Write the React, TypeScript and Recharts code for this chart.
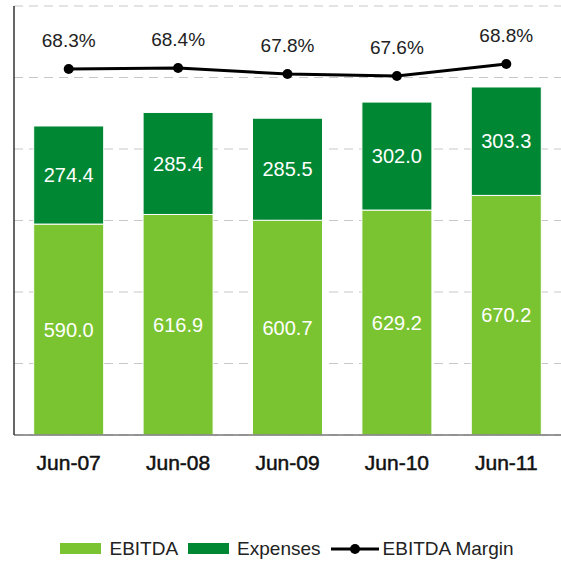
import { ComposedChart, Bar, Line, XAxis, YAxis, CartesianGrid, Legend, LabelList } from 'recharts'

const periods = ['Jun-07', 'Jun-08', 'Jun-09', 'Jun-10', 'Jun-11']
const ebitda = [590.0, 616.9, 600.7, 629.2, 670.2]
const expenses = [274.4, 285.4, 285.5, 302.0, 303.3]
const margin = [68.3, 68.4, 67.8, 67.6, 68.8]
const leftTicks = [0, 200, 400, 600, 800, 1000, 1200]
const legendOrder = ['EBITDA', 'Expenses', 'EBITDA Margin']

const LIGHT = '#7ac431'
const DARK = '#008733'
const FONT = '"Liberation Sans", Arial, Helvetica, sans-serif'

const data = periods.map((p, i) => ({
  period: p,
  ebitda: ebitda[i],
  expenses: expenses[i],
  margin: margin[i],
}))

// eslint-disable-next-line @typescript-eslint/no-explicit-any
function XTick({ x, y, payload }: any) {
  return (
    <text
      x={x}
      y={y}
      dy={27}
      textAnchor="middle"
      fontSize={21}
      fill="#111"
      stroke="#111"
      strokeWidth={0.5}
      fontFamily={FONT}
    >
      {payload.value}
    </text>
  )
}

// eslint-disable-next-line @typescript-eslint/no-explicit-any
function MarginLabel({ x, y, value }: any) {
  return (
    <text x={x} y={y - 29} textAnchor="middle" dominantBaseline="central" fontSize={19} fill="#222" fontFamily={FONT}>
      {`${Number(value).toFixed(1)}%`}
    </text>
  )
}

// eslint-disable-next-line @typescript-eslint/no-explicit-any
function LegendContent({ payload }: any) {
  // eslint-disable-next-line @typescript-eslint/no-explicit-any
  const items = [...payload].sort((a: any, b: any) => legendOrder.indexOf(a.value) - legendOrder.indexOf(b.value))
  return (
    <div
      style={{
        height: 46,
        paddingTop: 21,
        boxSizing: 'border-box',
        display: 'flex',
        justifyContent: 'center',
        alignItems: 'center',
        fontFamily: FONT,
        fontSize: 19,
        color: '#222',
      }}
    >
      {/* eslint-disable-next-line @typescript-eslint/no-explicit-any */}
      {items.map((p: any, i: number) => (
        <div key={i} style={{ display: 'flex', alignItems: 'center', marginRight: i < items.length - 1 ? 10 : 0 }}>
          {p.type === 'line' ? (
            <svg width={48} height={12} style={{ marginRight: 4 }}>
              <line x1={0} y1={6} x2={48} y2={6} stroke="#000" strokeWidth={3} />
              <circle cx={24} cy={6} r={5} fill="#000" />
            </svg>
          ) : (
            <svg width={41} height={11} style={{ marginRight: 8 }}>
              <rect x={0} y={0} width={41} height={11} fill={p.color} />
            </svg>
          )}
          <span>{p.value}</span>
        </div>
      ))}
    </div>
  )
}

export default function App() {
  return (
    <div style={{ position: 'absolute', left: 0, top: 0 }}>
      <ComposedChart
        width={561}
        height={561}
        data={data}
        margin={{ top: 6, right: 0, bottom: 0, left: 13 }}
        barCategoryGap="18%"
      >
        <CartesianGrid
          yAxisId="left"
          vertical={false}
          horizontalValues={leftTicks}
          stroke="#c8c8c8"
          strokeDasharray="9 6"
        />
        <XAxis
          dataKey="period"
          height={80}
          tickLine={false}
          axisLine={{ stroke: '#777', strokeWidth: 1.5 }}
          tick={<XTick />}
          interval={0}
        />
        <YAxis
          yAxisId="left"
          width={1}
          domain={[0, 1200]}
          ticks={leftTicks}
          tick={() => <g />}
          tickLine={false}
          axisLine={{ stroke: '#333', strokeWidth: 1.5 }}
        />
        <YAxis yAxisId="right" orientation="right" hide domain={[31.7, 74.6]} />
        <Legend verticalAlign="bottom" height={46} content={<LegendContent />} />
        <Bar yAxisId="left" dataKey="ebitda" name="EBITDA" stackId="a" fill={LIGHT} stroke="#fff" strokeWidth={1} isAnimationActive={false}>
          <LabelList dataKey="ebitda" position="center" fill="#fff" fontSize={20} fontFamily={FONT} formatter={(v: number) => v.toFixed(1)} />
        </Bar>
        <Bar yAxisId="left" dataKey="expenses" name="Expenses" stackId="a" fill={DARK} stroke="#fff" strokeWidth={1} isAnimationActive={false}>
          <LabelList dataKey="expenses" position="center" fill="#fff" fontSize={20} fontFamily={FONT} formatter={(v: number) => v.toFixed(1)} />
        </Bar>
        <Line
          yAxisId="right"
          dataKey="margin"
          name="EBITDA Margin"
          type="linear"
          stroke="#000"
          strokeWidth={3}
          dot={{ r: 5, fill: '#000', stroke: '#000', strokeWidth: 0 }}
          legendType="line"
          isAnimationActive={false}
        >
          <LabelList dataKey="margin" content={<MarginLabel />} />
        </Line>
      </ComposedChart>
    </div>
  )
}
